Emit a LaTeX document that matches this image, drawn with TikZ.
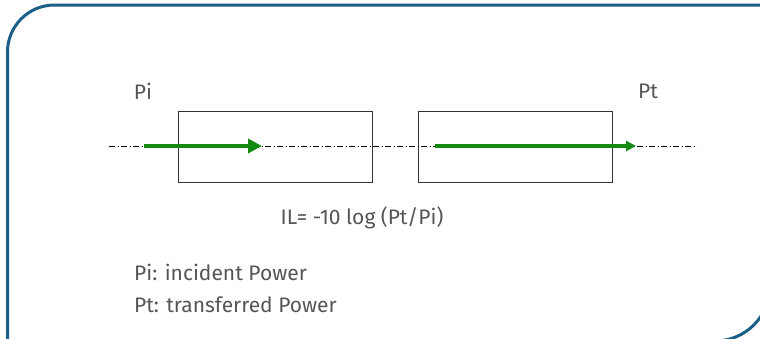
\documentclass[tikz,border=0pt]{standalone}
\usepackage{fontspec}
\setmainfont{Fira Sans}
\usepackage{xcolor}
\usepackage{tikz}
\usetikzlibrary{arrows.meta,positioning}
\definecolor{frame}{HTML}{1B5E88}
\definecolor{flowg}{HTML}{138A13}
\definecolor{txt}{HTML}{555555}
\tikzset{
  frm/.style={draw=frame,line width=3pt},
  blk/.style={draw=black!80,line width=0.8pt,minimum width=194pt,minimum height=71pt,inner sep=0pt},
  axis/.style={draw=black,line width=0.7pt,dash pattern=on 6pt off 2.5pt on 1pt off 2.5pt},
  powa/.style={draw=flowg,line width=4.5pt,-{Triangle[length=14pt,width=14pt]}},
  powb/.style={draw=flowg,line width=3.2pt,-{Triangle[length=10pt,width=10pt]}},
  lbl/.style={font=\fontsize{21}{25}\selectfont,text=txt,inner sep=0pt},
  % --- legend lines, left aligned ---
  leg/.style={lbl,anchor=west},
}
\begin{document}
\begin{tikzpicture}[x=1pt,y=-1pt]
  \useasboundingbox (0,0) rectangle (760,338);
  \begin{scope}
    \clip (0,0) rectangle (760,338);
    \draw[frm] (7.5,400) -- (7.5,52) arc[start angle=180,end angle=270,radius=47] -- (900,5);
    \draw[frm] (770,-50) -- (770,286) arc[start angle=0,end angle=90,radius=55] -- (500,341);
  \end{scope}
  \node[blk](b1) at (275,146.5){};
  \node[blk](b2) at (515,146.5){};
  \coordinate (a0) at (109,146);
  \coordinate (a1) at (697,146);
  \draw[axis](a0)--(a1);
  \coordinate (pa0) at (144,146);
  \coordinate (pa1) at (262,146);
  \coordinate (pb0) at (435,146);
  \coordinate (pb1) at (636,146);
  \draw[powa](pa0)--(pa1);
  \draw[powb](pb0)--(pb1);
  \node[lbl](pi) at (143,91){Pi};
  \node[lbl](pt) at (648,91){Pt};
  \node[lbl](il) at (362,218){IL= -10 log (Pt/Pi)};
  \node[leg](l1) at (134,272){Pi: incident Power};
  \node[leg](l2) at (134,305){Pt: transferred Power};
\end{tikzpicture}
\end{document}
